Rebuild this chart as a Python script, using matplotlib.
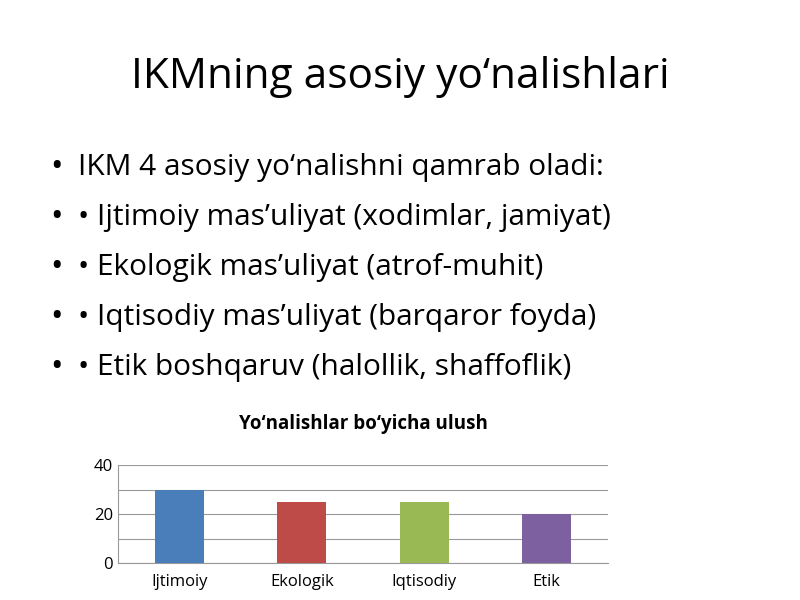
import matplotlib
matplotlib.use("Agg")
import matplotlib.pyplot as plt

title = "IKMning asosiy yo‘nalishlari"
bullets = ["IKM 4 asosiy yo‘nalishni qamrab oladi:",
           "• Ijtimoiy mas’uliyat (xodimlar, jamiyat)",
           "• Ekologik mas’uliyat (atrof-muhit)",
           "• Iqtisodiy mas’uliyat (barqaror foyda)",
           "• Etik boshqaruv (halollik, shaffoflik)"]
categories = ["Ijtimoiy", "Ekologik", "Iqtisodiy", "Etik"]
values = [30, 25, 25, 20]
colors = ["#4a7ebb", "#be4b48", "#98b954", "#7d60a0"]
chart_title = "Yo‘nalishlar bo‘yicha ulush"

plt.rcParams['font.family'] = ['Open Sans', 'DejaVu Sans']
fig = plt.figure(figsize=(8, 6), dpi=100)
fig.text(0.5, 1 - 77/600, title, ha='center', va='center', fontsize=30.5)
for i, b in enumerate(bullets):
    y = 1 - (168 + 50*i)/600
    fig.text(57/800, y, "•", ha='center', va='center', fontsize=24)
    fig.text(78/800, y, b, ha='left', va='center', fontsize=21.5)

ax = fig.add_axes([118/800, 1-563/600, 490/800, 98/600])
ax.bar(range(len(categories)), values, width=0.4, color=colors, zorder=3)
ax.set_xlim(-0.5, 3.5)
ax.set_ylim(0, 40)
ax.set_yticks([0, 20, 40])
ax.set_yticks([10, 30], minor=True)
ax.grid(axis='y', which='both', color='#999999', linewidth=0.8, zorder=0)
ax.set_xticks(range(len(categories)))
ax.set_xticklabels(categories, fontsize=12)
ax.tick_params(axis='y', labelsize=12, length=0, which='both')
ax.tick_params(axis='x', length=0, pad=8)
for s in ['top', 'right']:
    ax.spines[s].set_visible(False)
ax.spines['left'].set_color('#999999')
ax.spines['bottom'].set_color('#999999')
ax.set_title(chart_title, fontsize=13.5, fontweight='bold', pad=26)
fig.savefig("out.png", dpi=100)
